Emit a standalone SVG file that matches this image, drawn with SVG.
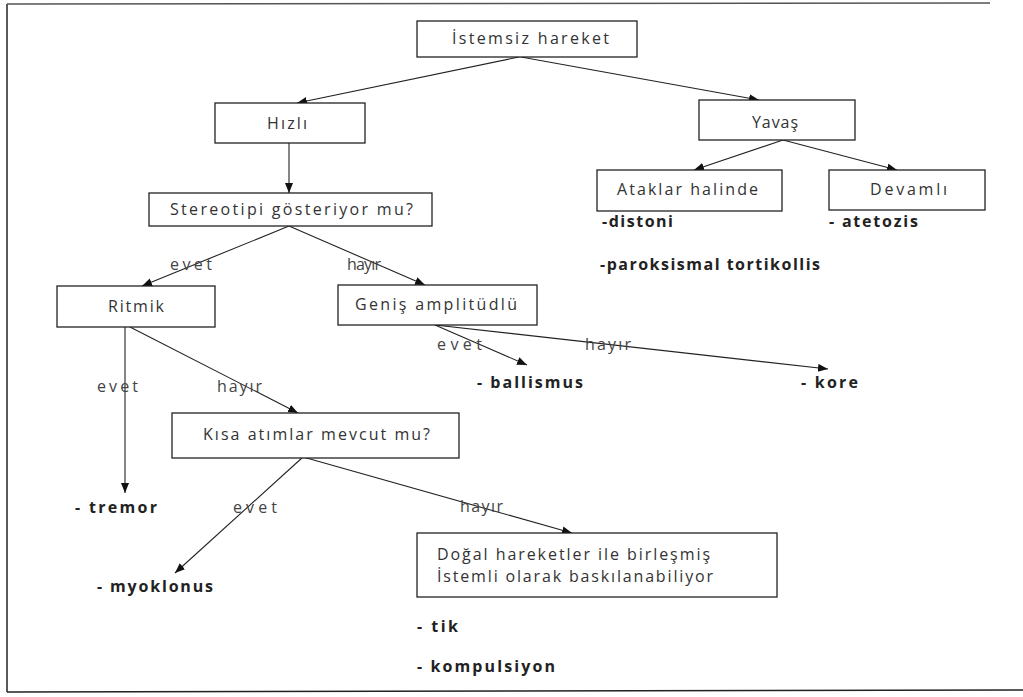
<svg xmlns="http://www.w3.org/2000/svg" width="1023" height="697" viewBox="0 0 1023 697">
<defs>
<marker id="ah" markerUnits="userSpaceOnUse" markerWidth="12" markerHeight="10" refX="10" refY="4" orient="auto">
<path d="M0,0 L10,4 L0,8 Z" fill="#111"/>
</marker>
<style>
.box{fill:#fff;stroke:#222;stroke-width:1.3}
.t{font-family:"Open Sans","DejaVu Sans",sans-serif;font-size:16px;fill:#333}
.b{font-family:"Open Sans","DejaVu Sans",sans-serif;font-size:16px;font-weight:bold;fill:#222}
.l{font-family:"Open Sans","DejaVu Sans",sans-serif;font-size:16px;fill:#444}
.c{stroke:#222;stroke-width:1.1;fill:none;marker-end:url(#ah)}
.frame{stroke:#222;stroke-width:1.5;fill:none}
</style>
</defs>
<rect width="1023" height="697" fill="#fff"/>
<g id="frame">
<line class="frame" x1="7" y1="4" x2="7" y2="692"/>
<line x1="7" y1="4" x2="990" y2="3" stroke="#555" stroke-width="1.5"/>
<line class="frame" x1="7" y1="692" x2="1023" y2="690"/>
</g>
<g id="connectors">
<line class="c" x1="519" y1="57" x2="297" y2="103"/>
<line class="c" x1="521" y1="57" x2="759" y2="100"/>
<line class="c" x1="289" y1="143" x2="289" y2="193"/>
<line class="c" x1="783" y1="140" x2="694" y2="170"/>
<line class="c" x1="783" y1="140" x2="897" y2="170"/>
<line class="c" x1="289" y1="226" x2="142" y2="286"/>
<line class="c" x1="289" y1="226" x2="425" y2="285"/>
<line class="c" x1="125" y1="327" x2="125" y2="493"/>
<line class="c" x1="130" y1="327" x2="298" y2="413"/>
<line class="c" x1="435" y1="325" x2="527" y2="365"/>
<line class="c" x1="435" y1="325" x2="828" y2="369"/>
<line class="c" x1="303" y1="457" x2="175" y2="573"/>
<line class="c" x1="303" y1="457" x2="572" y2="533"/>
</g>
<g id="labels">
<text class="l" x="170" y="270" textLength="42">evet</text>
<text class="l" x="347" y="270" textLength="34">hayır</text>
<text class="l" x="437" y="350" textLength="45">evet</text>
<text class="l" x="585" y="350" textLength="46">hayır</text>
<text class="l" x="97" y="392" textLength="41">evet</text>
<text class="l" x="217" y="392" textLength="45">hayır</text>
<text class="l" x="233" y="513" textLength="44">evet</text>
<text class="l" x="460" y="512" textLength="43">hayır</text>
</g>
<g id="n-istemsiz"><rect class="box" x="417" y="21" width="220" height="36"/><text class="t" x="452" y="44" textLength="157">İstemsiz hareket</text></g>
<g id="n-hizli"><rect class="box" x="215" y="103" width="150" height="40"/><text class="t" x="267" y="129" textLength="40">Hızlı</text></g>
<g id="n-yavas"><rect class="box" x="699" y="100" width="156" height="40"/><text class="t" x="752" y="128" textLength="46">Yavaş</text></g>
<g id="n-stereotipi"><rect class="box" x="149" y="193" width="283" height="33"/><text class="t" x="170" y="215" textLength="243">Stereotipi gösteriyor mu?</text></g>
<g id="n-ataklar"><rect class="box" x="597" y="170" width="185" height="41"/><text class="t" x="617" y="195" textLength="141">Ataklar halinde</text></g>
<g id="n-devamli"><rect class="box" x="829" y="170" width="156" height="40"/><text class="t" x="870" y="195" textLength="77">Devamlı</text></g>
<g id="n-distoni"><text class="b" x="602" y="227" textLength="71">-distoni</text><text class="b" x="600" y="270" textLength="220">-paroksismal tortikollis</text></g>
<g id="n-atetozis"><text class="b" x="829" y="227" textLength="89">- atetozis</text></g>
<g id="n-ritmik"><rect class="box" x="57" y="286" width="158" height="41"/><text class="t" x="108" y="312" textLength="56">Ritmik</text></g>
<g id="n-genis"><rect class="box" x="338" y="285" width="199" height="40"/><text class="t" x="355" y="310" textLength="162">Geniş amplitüdlü</text></g>
<g id="n-ballismus"><text class="b" x="477" y="388" textLength="106">-  ballismus</text></g>
<g id="n-kore"><text class="b" x="801" y="388" textLength="57">- kore</text></g>
<g id="n-kisa"><rect class="box" x="172" y="413" width="287" height="45"/><text class="t" x="203" y="440" textLength="227">Kısa atımlar mevcut mu?</text></g>
<g id="n-tremor"><text class="b" x="75" y="513" textLength="82">- tremor</text></g>
<g id="n-myoklonus"><text class="b" x="97" y="592" textLength="116">- myoklonus</text></g>
<g id="n-dogal"><rect class="box" x="417" y="533" width="360" height="64"/><text class="t" x="437" y="560" textLength="273">Doğal hareketler ile birleşmiş</text><text class="t" x="437" y="582" textLength="276">İstemli olarak baskılanabiliyor</text></g>
<g id="n-tik"><text class="b" x="417" y="632" textLength="41">-  tik</text><text class="b" x="417" y="672" textLength="138">-  kompulsiyon</text></g>
</svg>
